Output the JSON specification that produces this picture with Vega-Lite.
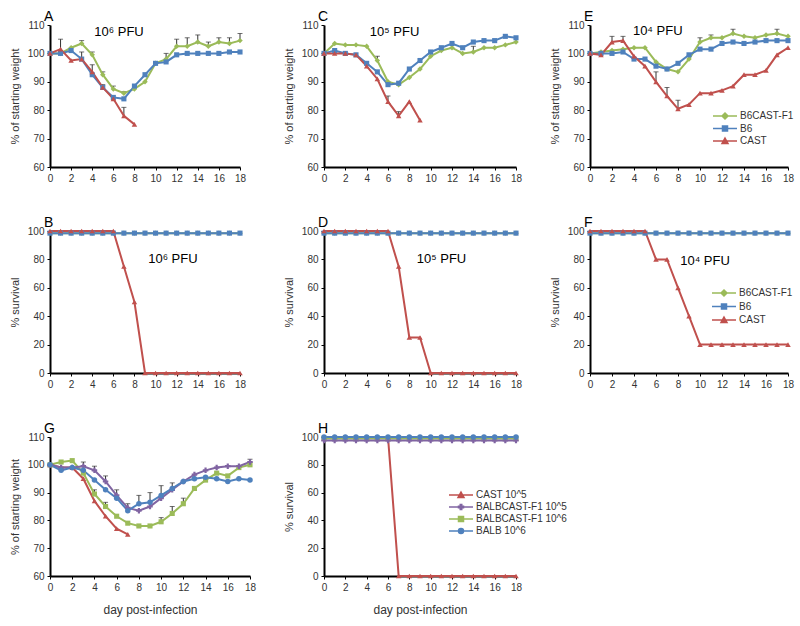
{
"$schema":"https://vega.github.io/schema/vega-lite/v6.json",
"background":"white",
"padding":{"left":9,"top":10,"right":4,"bottom":4},
"config":{
 "font":"Liberation Sans",
 "view":{"stroke":null},
 "axis":{"domainColor":"#000","domainWidth":2,"tickColor":"#000","tickSize":3,"tickWidth":1,"labelFontSize":10,"labelColor":"#333","titleFontSize":11,"titleFontWeight":"normal","titleColor":"#333","grid":false,"labelPadding":3,"labelFlush":false,"labelOverlap":false},
 "axisY":{"minExtent":24,"maxExtent":24,"titlePadding":6},
 "axisX":{"labelAngle":0,"titlePadding":12,"titleFontSize":12},
 "title":{"fontSize":14,"fontWeight":"normal","anchor":"start","frame":"group","offset":-4,"dx":-6,"color":"#000"},
 "legend":{"labelFontSize":10,"labelColor":"#333","symbolStrokeWidth":1.5,"symbolSize":100,"labelOffset":9,"padding":0}
},
"datasets":{
"weight":[
{"p":"A","s":"B6CAST-F1","d":0,"v":100},{"p":"A","s":"B6CAST-F1","d":1,"v":100},{"p":"A","s":"B6CAST-F1","d":2,"v":102},{"p":"A","s":"B6CAST-F1","d":3,"v":103.5,"hi":104.5},{"p":"A","s":"B6CAST-F1","d":4,"v":99.5,"hi":100.5},{"p":"A","s":"B6CAST-F1","d":5,"v":92.5,"hi":93.5},{"p":"A","s":"B6CAST-F1","d":6,"v":87.5,"hi":88.5},{"p":"A","s":"B6CAST-F1","d":7,"v":86,"hi":86.5},{"p":"A","s":"B6CAST-F1","d":8,"v":87.5},{"p":"A","s":"B6CAST-F1","d":9,"v":90},{"p":"A","s":"B6CAST-F1","d":10,"v":96.5},{"p":"A","s":"B6CAST-F1","d":11,"v":98,"hi":100},{"p":"A","s":"B6CAST-F1","d":12,"v":102.5,"hi":105},{"p":"A","s":"B6CAST-F1","d":13,"v":102.5,"hi":105.5},{"p":"A","s":"B6CAST-F1","d":14,"v":104,"hi":106.5},{"p":"A","s":"B6CAST-F1","d":15,"v":102.5,"hi":104},{"p":"A","s":"B6CAST-F1","d":16,"v":104,"hi":105.5},{"p":"A","s":"B6CAST-F1","d":17,"v":103.5,"hi":105.5},{"p":"A","s":"B6CAST-F1","d":18,"v":104.5,"hi":107},
{"p":"A","s":"B6","d":0,"v":100},{"p":"A","s":"B6","d":1,"v":100},{"p":"A","s":"B6","d":2,"v":101},{"p":"A","s":"B6","d":3,"v":98},{"p":"A","s":"B6","d":4,"v":92.5},{"p":"A","s":"B6","d":5,"v":88},{"p":"A","s":"B6","d":6,"v":84.5},{"p":"A","s":"B6","d":7,"v":84},{"p":"A","s":"B6","d":8,"v":88.5},{"p":"A","s":"B6","d":9,"v":92.5},{"p":"A","s":"B6","d":10,"v":96.5},{"p":"A","s":"B6","d":11,"v":97},{"p":"A","s":"B6","d":12,"v":99.5},{"p":"A","s":"B6","d":13,"v":100},{"p":"A","s":"B6","d":14,"v":100},{"p":"A","s":"B6","d":15,"v":100},{"p":"A","s":"B6","d":16,"v":100},{"p":"A","s":"B6","d":17,"v":100.5},{"p":"A","s":"B6","d":18,"v":100.5},
{"p":"A","s":"CAST","d":0,"v":100},{"p":"A","s":"CAST","d":1,"v":101.5,"hi":105},{"p":"A","s":"CAST","d":2,"v":97.5},{"p":"A","s":"CAST","d":3,"v":98,"hi":100.5},{"p":"A","s":"CAST","d":4,"v":93.5,"hi":96},{"p":"A","s":"CAST","d":5,"v":88,"hi":89},{"p":"A","s":"CAST","d":6,"v":84},{"p":"A","s":"CAST","d":7,"v":78,"hi":81},{"p":"A","s":"CAST","d":8,"v":75},
{"p":"C","s":"B6CAST-F1","d":0,"v":100},{"p":"C","s":"B6CAST-F1","d":1,"v":103.5},{"p":"C","s":"B6CAST-F1","d":2,"v":103},{"p":"C","s":"B6CAST-F1","d":3,"v":103},{"p":"C","s":"B6CAST-F1","d":4,"v":102.5},{"p":"C","s":"B6CAST-F1","d":5,"v":97.5,"hi":99},{"p":"C","s":"B6CAST-F1","d":6,"v":90},{"p":"C","s":"B6CAST-F1","d":7,"v":89},{"p":"C","s":"B6CAST-F1","d":8,"v":91.5},{"p":"C","s":"B6CAST-F1","d":9,"v":94.5},{"p":"C","s":"B6CAST-F1","d":10,"v":99},{"p":"C","s":"B6CAST-F1","d":11,"v":101},{"p":"C","s":"B6CAST-F1","d":12,"v":102},{"p":"C","s":"B6CAST-F1","d":13,"v":100},{"p":"C","s":"B6CAST-F1","d":14,"v":100.5,"hi":102.5},{"p":"C","s":"B6CAST-F1","d":15,"v":102},{"p":"C","s":"B6CAST-F1","d":16,"v":102},{"p":"C","s":"B6CAST-F1","d":17,"v":103},{"p":"C","s":"B6CAST-F1","d":18,"v":104},
{"p":"C","s":"B6","d":0,"v":100},{"p":"C","s":"B6","d":1,"v":101},{"p":"C","s":"B6","d":2,"v":100},{"p":"C","s":"B6","d":3,"v":99.5},{"p":"C","s":"B6","d":4,"v":96.5},{"p":"C","s":"B6","d":5,"v":93.5},{"p":"C","s":"B6","d":6,"v":89},{"p":"C","s":"B6","d":7,"v":89.5},{"p":"C","s":"B6","d":8,"v":94.5},{"p":"C","s":"B6","d":9,"v":97.5},{"p":"C","s":"B6","d":10,"v":100.5},{"p":"C","s":"B6","d":11,"v":102},{"p":"C","s":"B6","d":12,"v":103.5},{"p":"C","s":"B6","d":13,"v":102},{"p":"C","s":"B6","d":14,"v":104},{"p":"C","s":"B6","d":15,"v":104.5},{"p":"C","s":"B6","d":16,"v":104.5},{"p":"C","s":"B6","d":17,"v":106},{"p":"C","s":"B6","d":18,"v":105.5},
{"p":"C","s":"CAST","d":0,"v":100},{"p":"C","s":"CAST","d":1,"v":100},{"p":"C","s":"CAST","d":2,"v":100},{"p":"C","s":"CAST","d":3,"v":99.5},{"p":"C","s":"CAST","d":4,"v":95.5},{"p":"C","s":"CAST","d":5,"v":91},{"p":"C","s":"CAST","d":6,"v":83,"hi":85},{"p":"C","s":"CAST","d":7,"v":78,"hi":79.5},{"p":"C","s":"CAST","d":8,"v":83},{"p":"C","s":"CAST","d":9,"v":76.5},
{"p":"E","s":"B6CAST-F1","d":0,"v":100},{"p":"E","s":"B6CAST-F1","d":1,"v":100.5},{"p":"E","s":"B6CAST-F1","d":2,"v":101},{"p":"E","s":"B6CAST-F1","d":3,"v":101.5},{"p":"E","s":"B6CAST-F1","d":4,"v":102},{"p":"E","s":"B6CAST-F1","d":5,"v":102},{"p":"E","s":"B6CAST-F1","d":6,"v":97},{"p":"E","s":"B6CAST-F1","d":7,"v":94.5},{"p":"E","s":"B6CAST-F1","d":8,"v":93.5},{"p":"E","s":"B6CAST-F1","d":9,"v":98},{"p":"E","s":"B6CAST-F1","d":10,"v":104,"hi":105.5},{"p":"E","s":"B6CAST-F1","d":11,"v":105.5,"hi":106.5},{"p":"E","s":"B6CAST-F1","d":12,"v":105.5},{"p":"E","s":"B6CAST-F1","d":13,"v":107,"hi":108.5},{"p":"E","s":"B6CAST-F1","d":14,"v":106},{"p":"E","s":"B6CAST-F1","d":15,"v":105.5},{"p":"E","s":"B6CAST-F1","d":16,"v":106.5},{"p":"E","s":"B6CAST-F1","d":17,"v":107,"hi":108.5},{"p":"E","s":"B6CAST-F1","d":18,"v":106},
{"p":"E","s":"B6","d":0,"v":100},{"p":"E","s":"B6","d":1,"v":100},{"p":"E","s":"B6","d":2,"v":100},{"p":"E","s":"B6","d":3,"v":100.5},{"p":"E","s":"B6","d":4,"v":98},{"p":"E","s":"B6","d":5,"v":98},{"p":"E","s":"B6","d":6,"v":95.5},{"p":"E","s":"B6","d":7,"v":94.5},{"p":"E","s":"B6","d":8,"v":96.5},{"p":"E","s":"B6","d":9,"v":99.5},{"p":"E","s":"B6","d":10,"v":101.5},{"p":"E","s":"B6","d":11,"v":101.5},{"p":"E","s":"B6","d":12,"v":103.5},{"p":"E","s":"B6","d":13,"v":104},{"p":"E","s":"B6","d":14,"v":103.5},{"p":"E","s":"B6","d":15,"v":104},{"p":"E","s":"B6","d":16,"v":104.5},{"p":"E","s":"B6","d":17,"v":104.5},{"p":"E","s":"B6","d":18,"v":104.5},
{"p":"E","s":"CAST","d":0,"v":100},{"p":"E","s":"CAST","d":1,"v":99.5},{"p":"E","s":"CAST","d":2,"v":104,"hi":106},{"p":"E","s":"CAST","d":3,"v":104.5,"hi":106},{"p":"E","s":"CAST","d":4,"v":99},{"p":"E","s":"CAST","d":5,"v":95.5},{"p":"E","s":"CAST","d":6,"v":90,"hi":93.5},{"p":"E","s":"CAST","d":7,"v":85,"hi":88},{"p":"E","s":"CAST","d":8,"v":80.5,"hi":83.5},{"p":"E","s":"CAST","d":9,"v":82},{"p":"E","s":"CAST","d":10,"v":86},{"p":"E","s":"CAST","d":11,"v":86},{"p":"E","s":"CAST","d":12,"v":87},{"p":"E","s":"CAST","d":13,"v":88.5},{"p":"E","s":"CAST","d":14,"v":92.5},{"p":"E","s":"CAST","d":15,"v":92.5},{"p":"E","s":"CAST","d":16,"v":94},{"p":"E","s":"CAST","d":17,"v":99.5},{"p":"E","s":"CAST","d":18,"v":102},
{"p":"G","s":"BALBCAST-F1 10^6","d":0,"v":100},{"p":"G","s":"BALBCAST-F1 10^6","d":1,"v":101},{"p":"G","s":"BALBCAST-F1 10^6","d":2,"v":101.5},{"p":"G","s":"BALBCAST-F1 10^6","d":3,"v":97},{"p":"G","s":"BALBCAST-F1 10^6","d":4,"v":89.5,"hi":91},{"p":"G","s":"BALBCAST-F1 10^6","d":5,"v":85,"hi":86.5},{"p":"G","s":"BALBCAST-F1 10^6","d":6,"v":81.5},{"p":"G","s":"BALBCAST-F1 10^6","d":7,"v":79},{"p":"G","s":"BALBCAST-F1 10^6","d":8,"v":78},{"p":"G","s":"BALBCAST-F1 10^6","d":9,"v":78},{"p":"G","s":"BALBCAST-F1 10^6","d":10,"v":79.5,"hi":81},{"p":"G","s":"BALBCAST-F1 10^6","d":11,"v":82.5,"hi":85},{"p":"G","s":"BALBCAST-F1 10^6","d":12,"v":86,"hi":88},{"p":"G","s":"BALBCAST-F1 10^6","d":13,"v":91.5},{"p":"G","s":"BALBCAST-F1 10^6","d":14,"v":94.5},{"p":"G","s":"BALBCAST-F1 10^6","d":15,"v":97},{"p":"G","s":"BALBCAST-F1 10^6","d":16,"v":96},{"p":"G","s":"BALBCAST-F1 10^6","d":17,"v":99},{"p":"G","s":"BALBCAST-F1 10^6","d":18,"v":100},
{"p":"G","s":"CAST 10^5","d":0,"v":100},{"p":"G","s":"CAST 10^5","d":1,"v":99},{"p":"G","s":"CAST 10^5","d":2,"v":99},{"p":"G","s":"CAST 10^5","d":3,"v":95},{"p":"G","s":"CAST 10^5","d":4,"v":87},{"p":"G","s":"CAST 10^5","d":5,"v":81.5},{"p":"G","s":"CAST 10^5","d":6,"v":77},{"p":"G","s":"CAST 10^5","d":7,"v":75},
{"p":"G","s":"BALBCAST-F1 10^5","d":0,"v":100},{"p":"G","s":"BALBCAST-F1 10^5","d":1,"v":99},{"p":"G","s":"BALBCAST-F1 10^5","d":2,"v":99},{"p":"G","s":"BALBCAST-F1 10^5","d":3,"v":99.5,"hi":101},{"p":"G","s":"BALBCAST-F1 10^5","d":4,"v":98,"hi":99.5},{"p":"G","s":"BALBCAST-F1 10^5","d":5,"v":94,"hi":96},{"p":"G","s":"BALBCAST-F1 10^5","d":6,"v":89,"hi":91},{"p":"G","s":"BALBCAST-F1 10^5","d":7,"v":84.5,"hi":86},{"p":"G","s":"BALBCAST-F1 10^5","d":8,"v":83.5},{"p":"G","s":"BALBCAST-F1 10^5","d":9,"v":85},{"p":"G","s":"BALBCAST-F1 10^5","d":10,"v":88},{"p":"G","s":"BALBCAST-F1 10^5","d":11,"v":91},{"p":"G","s":"BALBCAST-F1 10^5","d":12,"v":94},{"p":"G","s":"BALBCAST-F1 10^5","d":13,"v":96.5},{"p":"G","s":"BALBCAST-F1 10^5","d":14,"v":98},{"p":"G","s":"BALBCAST-F1 10^5","d":15,"v":99},{"p":"G","s":"BALBCAST-F1 10^5","d":16,"v":99.5},{"p":"G","s":"BALBCAST-F1 10^5","d":17,"v":99.5},{"p":"G","s":"BALBCAST-F1 10^5","d":18,"v":101,"hi":102},
{"p":"G","s":"BALB 10^6","d":0,"v":100},{"p":"G","s":"BALB 10^6","d":1,"v":98},{"p":"G","s":"BALB 10^6","d":2,"v":99},{"p":"G","s":"BALB 10^6","d":3,"v":98},{"p":"G","s":"BALB 10^6","d":4,"v":94.5},{"p":"G","s":"BALB 10^6","d":5,"v":91},{"p":"G","s":"BALB 10^6","d":6,"v":88},{"p":"G","s":"BALB 10^6","d":7,"v":83.5},{"p":"G","s":"BALB 10^6","d":8,"v":86,"hi":89},{"p":"G","s":"BALB 10^6","d":9,"v":86.5,"hi":90},{"p":"G","s":"BALB 10^6","d":10,"v":89,"hi":92.5},{"p":"G","s":"BALB 10^6","d":11,"v":91.5,"hi":93.5},{"p":"G","s":"BALB 10^6","d":12,"v":94},{"p":"G","s":"BALB 10^6","d":13,"v":95},{"p":"G","s":"BALB 10^6","d":14,"v":95.5},{"p":"G","s":"BALB 10^6","d":15,"v":95},{"p":"G","s":"BALB 10^6","d":16,"v":94},{"p":"G","s":"BALB 10^6","d":17,"v":95},{"p":"G","s":"BALB 10^6","d":18,"v":94.5}
],
"surv":[
{"p":"B","s":"B6CAST-F1","d":0,"v":98.5},{"p":"B","s":"B6CAST-F1","d":1,"v":98.5},{"p":"B","s":"B6CAST-F1","d":2,"v":98.5},{"p":"B","s":"B6CAST-F1","d":3,"v":98.5},{"p":"B","s":"B6CAST-F1","d":4,"v":98.5},{"p":"B","s":"B6CAST-F1","d":5,"v":98.5},{"p":"B","s":"B6CAST-F1","d":6,"v":98.5},{"p":"B","s":"B6CAST-F1","d":7,"v":98.5},{"p":"B","s":"B6CAST-F1","d":8,"v":98.5},{"p":"B","s":"B6CAST-F1","d":9,"v":98.5},{"p":"B","s":"B6CAST-F1","d":10,"v":98.5},{"p":"B","s":"B6CAST-F1","d":11,"v":98.5},{"p":"B","s":"B6CAST-F1","d":12,"v":98.5},{"p":"B","s":"B6CAST-F1","d":13,"v":98.5},{"p":"B","s":"B6CAST-F1","d":14,"v":98.5},{"p":"B","s":"B6CAST-F1","d":15,"v":98.5},{"p":"B","s":"B6CAST-F1","d":16,"v":98.5},{"p":"B","s":"B6CAST-F1","d":17,"v":98.5},{"p":"B","s":"B6CAST-F1","d":18,"v":98.5},
{"p":"B","s":"B6","d":0,"v":98.5},{"p":"B","s":"B6","d":1,"v":98.5},{"p":"B","s":"B6","d":2,"v":98.5},{"p":"B","s":"B6","d":3,"v":98.5},{"p":"B","s":"B6","d":4,"v":98.5},{"p":"B","s":"B6","d":5,"v":98.5},{"p":"B","s":"B6","d":6,"v":98.5},{"p":"B","s":"B6","d":7,"v":98.5},{"p":"B","s":"B6","d":8,"v":98.5},{"p":"B","s":"B6","d":9,"v":98.5},{"p":"B","s":"B6","d":10,"v":98.5},{"p":"B","s":"B6","d":11,"v":98.5},{"p":"B","s":"B6","d":12,"v":98.5},{"p":"B","s":"B6","d":13,"v":98.5},{"p":"B","s":"B6","d":14,"v":98.5},{"p":"B","s":"B6","d":15,"v":98.5},{"p":"B","s":"B6","d":16,"v":98.5},{"p":"B","s":"B6","d":17,"v":98.5},{"p":"B","s":"B6","d":18,"v":98.5},
{"p":"B","s":"CAST","d":0,"v":100},{"p":"B","s":"CAST","d":1,"v":100},{"p":"B","s":"CAST","d":2,"v":100},{"p":"B","s":"CAST","d":3,"v":100},{"p":"B","s":"CAST","d":4,"v":100},{"p":"B","s":"CAST","d":5,"v":100},{"p":"B","s":"CAST","d":6,"v":100},{"p":"B","s":"CAST","d":7,"v":75},{"p":"B","s":"CAST","d":8,"v":50},{"p":"B","s":"CAST","d":9,"v":0},{"p":"B","s":"CAST","d":10,"v":0},{"p":"B","s":"CAST","d":11,"v":0},{"p":"B","s":"CAST","d":12,"v":0},{"p":"B","s":"CAST","d":13,"v":0},{"p":"B","s":"CAST","d":14,"v":0},{"p":"B","s":"CAST","d":15,"v":0},{"p":"B","s":"CAST","d":16,"v":0},{"p":"B","s":"CAST","d":17,"v":0},{"p":"B","s":"CAST","d":18,"v":0},
{"p":"D","s":"B6CAST-F1","d":0,"v":98.5},{"p":"D","s":"B6CAST-F1","d":1,"v":98.5},{"p":"D","s":"B6CAST-F1","d":2,"v":98.5},{"p":"D","s":"B6CAST-F1","d":3,"v":98.5},{"p":"D","s":"B6CAST-F1","d":4,"v":98.5},{"p":"D","s":"B6CAST-F1","d":5,"v":98.5},{"p":"D","s":"B6CAST-F1","d":6,"v":98.5},{"p":"D","s":"B6CAST-F1","d":7,"v":98.5},{"p":"D","s":"B6CAST-F1","d":8,"v":98.5},{"p":"D","s":"B6CAST-F1","d":9,"v":98.5},{"p":"D","s":"B6CAST-F1","d":10,"v":98.5},{"p":"D","s":"B6CAST-F1","d":11,"v":98.5},{"p":"D","s":"B6CAST-F1","d":12,"v":98.5},{"p":"D","s":"B6CAST-F1","d":13,"v":98.5},{"p":"D","s":"B6CAST-F1","d":14,"v":98.5},{"p":"D","s":"B6CAST-F1","d":15,"v":98.5},{"p":"D","s":"B6CAST-F1","d":16,"v":98.5},{"p":"D","s":"B6CAST-F1","d":17,"v":98.5},{"p":"D","s":"B6CAST-F1","d":18,"v":98.5},
{"p":"D","s":"B6","d":0,"v":98.5},{"p":"D","s":"B6","d":1,"v":98.5},{"p":"D","s":"B6","d":2,"v":98.5},{"p":"D","s":"B6","d":3,"v":98.5},{"p":"D","s":"B6","d":4,"v":98.5},{"p":"D","s":"B6","d":5,"v":98.5},{"p":"D","s":"B6","d":6,"v":98.5},{"p":"D","s":"B6","d":7,"v":98.5},{"p":"D","s":"B6","d":8,"v":98.5},{"p":"D","s":"B6","d":9,"v":98.5},{"p":"D","s":"B6","d":10,"v":98.5},{"p":"D","s":"B6","d":11,"v":98.5},{"p":"D","s":"B6","d":12,"v":98.5},{"p":"D","s":"B6","d":13,"v":98.5},{"p":"D","s":"B6","d":14,"v":98.5},{"p":"D","s":"B6","d":15,"v":98.5},{"p":"D","s":"B6","d":16,"v":98.5},{"p":"D","s":"B6","d":17,"v":98.5},{"p":"D","s":"B6","d":18,"v":98.5},
{"p":"D","s":"CAST","d":0,"v":100},{"p":"D","s":"CAST","d":1,"v":100},{"p":"D","s":"CAST","d":2,"v":100},{"p":"D","s":"CAST","d":3,"v":100},{"p":"D","s":"CAST","d":4,"v":100},{"p":"D","s":"CAST","d":5,"v":100},{"p":"D","s":"CAST","d":6,"v":100},{"p":"D","s":"CAST","d":7,"v":75},{"p":"D","s":"CAST","d":8,"v":25},{"p":"D","s":"CAST","d":9,"v":25},{"p":"D","s":"CAST","d":10,"v":0},{"p":"D","s":"CAST","d":11,"v":0},{"p":"D","s":"CAST","d":12,"v":0},{"p":"D","s":"CAST","d":13,"v":0},{"p":"D","s":"CAST","d":14,"v":0},{"p":"D","s":"CAST","d":15,"v":0},{"p":"D","s":"CAST","d":16,"v":0},{"p":"D","s":"CAST","d":17,"v":0},{"p":"D","s":"CAST","d":18,"v":0},
{"p":"F","s":"B6CAST-F1","d":0,"v":98.5},{"p":"F","s":"B6CAST-F1","d":1,"v":98.5},{"p":"F","s":"B6CAST-F1","d":2,"v":98.5},{"p":"F","s":"B6CAST-F1","d":3,"v":98.5},{"p":"F","s":"B6CAST-F1","d":4,"v":98.5},{"p":"F","s":"B6CAST-F1","d":5,"v":98.5},{"p":"F","s":"B6CAST-F1","d":6,"v":98.5},{"p":"F","s":"B6CAST-F1","d":7,"v":98.5},{"p":"F","s":"B6CAST-F1","d":8,"v":98.5},{"p":"F","s":"B6CAST-F1","d":9,"v":98.5},{"p":"F","s":"B6CAST-F1","d":10,"v":98.5},{"p":"F","s":"B6CAST-F1","d":11,"v":98.5},{"p":"F","s":"B6CAST-F1","d":12,"v":98.5},{"p":"F","s":"B6CAST-F1","d":13,"v":98.5},{"p":"F","s":"B6CAST-F1","d":14,"v":98.5},{"p":"F","s":"B6CAST-F1","d":15,"v":98.5},{"p":"F","s":"B6CAST-F1","d":16,"v":98.5},{"p":"F","s":"B6CAST-F1","d":17,"v":98.5},{"p":"F","s":"B6CAST-F1","d":18,"v":98.5},
{"p":"F","s":"B6","d":0,"v":98.5},{"p":"F","s":"B6","d":1,"v":98.5},{"p":"F","s":"B6","d":2,"v":98.5},{"p":"F","s":"B6","d":3,"v":98.5},{"p":"F","s":"B6","d":4,"v":98.5},{"p":"F","s":"B6","d":5,"v":98.5},{"p":"F","s":"B6","d":6,"v":98.5},{"p":"F","s":"B6","d":7,"v":98.5},{"p":"F","s":"B6","d":8,"v":98.5},{"p":"F","s":"B6","d":9,"v":98.5},{"p":"F","s":"B6","d":10,"v":98.5},{"p":"F","s":"B6","d":11,"v":98.5},{"p":"F","s":"B6","d":12,"v":98.5},{"p":"F","s":"B6","d":13,"v":98.5},{"p":"F","s":"B6","d":14,"v":98.5},{"p":"F","s":"B6","d":15,"v":98.5},{"p":"F","s":"B6","d":16,"v":98.5},{"p":"F","s":"B6","d":17,"v":98.5},{"p":"F","s":"B6","d":18,"v":98.5},
{"p":"F","s":"CAST","d":0,"v":100},{"p":"F","s":"CAST","d":1,"v":100},{"p":"F","s":"CAST","d":2,"v":100},{"p":"F","s":"CAST","d":3,"v":100},{"p":"F","s":"CAST","d":4,"v":100},{"p":"F","s":"CAST","d":5,"v":100},{"p":"F","s":"CAST","d":6,"v":80},{"p":"F","s":"CAST","d":7,"v":80},{"p":"F","s":"CAST","d":8,"v":60},{"p":"F","s":"CAST","d":9,"v":40},{"p":"F","s":"CAST","d":10,"v":20},{"p":"F","s":"CAST","d":11,"v":20},{"p":"F","s":"CAST","d":12,"v":20},{"p":"F","s":"CAST","d":13,"v":20},{"p":"F","s":"CAST","d":14,"v":20},{"p":"F","s":"CAST","d":15,"v":20},{"p":"F","s":"CAST","d":16,"v":20},{"p":"F","s":"CAST","d":17,"v":20},{"p":"F","s":"CAST","d":18,"v":20},
{"p":"H","s":"CAST 10^5","d":0,"v":100},{"p":"H","s":"CAST 10^5","d":1,"v":100},{"p":"H","s":"CAST 10^5","d":2,"v":100},{"p":"H","s":"CAST 10^5","d":3,"v":100},{"p":"H","s":"CAST 10^5","d":4,"v":100},{"p":"H","s":"CAST 10^5","d":5,"v":100},{"p":"H","s":"CAST 10^5","d":6,"v":100},{"p":"H","s":"CAST 10^5","d":7,"v":0},{"p":"H","s":"CAST 10^5","d":8,"v":0},{"p":"H","s":"CAST 10^5","d":9,"v":0},{"p":"H","s":"CAST 10^5","d":10,"v":0},{"p":"H","s":"CAST 10^5","d":11,"v":0},{"p":"H","s":"CAST 10^5","d":12,"v":0},{"p":"H","s":"CAST 10^5","d":13,"v":0},{"p":"H","s":"CAST 10^5","d":14,"v":0},{"p":"H","s":"CAST 10^5","d":15,"v":0},{"p":"H","s":"CAST 10^5","d":16,"v":0},{"p":"H","s":"CAST 10^5","d":17,"v":0},{"p":"H","s":"CAST 10^5","d":18,"v":0},
{"p":"H","s":"BALBCAST-F1 10^6","d":0,"v":99},{"p":"H","s":"BALBCAST-F1 10^6","d":1,"v":99},{"p":"H","s":"BALBCAST-F1 10^6","d":2,"v":99},{"p":"H","s":"BALBCAST-F1 10^6","d":3,"v":99},{"p":"H","s":"BALBCAST-F1 10^6","d":4,"v":99},{"p":"H","s":"BALBCAST-F1 10^6","d":5,"v":99},{"p":"H","s":"BALBCAST-F1 10^6","d":6,"v":99},{"p":"H","s":"BALBCAST-F1 10^6","d":7,"v":99},{"p":"H","s":"BALBCAST-F1 10^6","d":8,"v":99},{"p":"H","s":"BALBCAST-F1 10^6","d":9,"v":99},{"p":"H","s":"BALBCAST-F1 10^6","d":10,"v":99},{"p":"H","s":"BALBCAST-F1 10^6","d":11,"v":99},{"p":"H","s":"BALBCAST-F1 10^6","d":12,"v":99},{"p":"H","s":"BALBCAST-F1 10^6","d":13,"v":99},{"p":"H","s":"BALBCAST-F1 10^6","d":14,"v":99},{"p":"H","s":"BALBCAST-F1 10^6","d":15,"v":99},{"p":"H","s":"BALBCAST-F1 10^6","d":16,"v":99},{"p":"H","s":"BALBCAST-F1 10^6","d":17,"v":99},{"p":"H","s":"BALBCAST-F1 10^6","d":18,"v":99},
{"p":"H","s":"BALBCAST-F1 10^5","d":0,"v":97.5},{"p":"H","s":"BALBCAST-F1 10^5","d":1,"v":97.5},{"p":"H","s":"BALBCAST-F1 10^5","d":2,"v":97.5},{"p":"H","s":"BALBCAST-F1 10^5","d":3,"v":97.5},{"p":"H","s":"BALBCAST-F1 10^5","d":4,"v":97.5},{"p":"H","s":"BALBCAST-F1 10^5","d":5,"v":97.5},{"p":"H","s":"BALBCAST-F1 10^5","d":6,"v":97.5},{"p":"H","s":"BALBCAST-F1 10^5","d":7,"v":97.5},{"p":"H","s":"BALBCAST-F1 10^5","d":8,"v":97.5},{"p":"H","s":"BALBCAST-F1 10^5","d":9,"v":97.5},{"p":"H","s":"BALBCAST-F1 10^5","d":10,"v":97.5},{"p":"H","s":"BALBCAST-F1 10^5","d":11,"v":97.5},{"p":"H","s":"BALBCAST-F1 10^5","d":12,"v":97.5},{"p":"H","s":"BALBCAST-F1 10^5","d":13,"v":97.5},{"p":"H","s":"BALBCAST-F1 10^5","d":14,"v":97.5},{"p":"H","s":"BALBCAST-F1 10^5","d":15,"v":97.5},{"p":"H","s":"BALBCAST-F1 10^5","d":16,"v":97.5},{"p":"H","s":"BALBCAST-F1 10^5","d":17,"v":97.5},{"p":"H","s":"BALBCAST-F1 10^5","d":18,"v":97.5},
{"p":"H","s":"BALB 10^6","d":0,"v":100},{"p":"H","s":"BALB 10^6","d":1,"v":100},{"p":"H","s":"BALB 10^6","d":2,"v":100},{"p":"H","s":"BALB 10^6","d":3,"v":100},{"p":"H","s":"BALB 10^6","d":4,"v":100},{"p":"H","s":"BALB 10^6","d":5,"v":100},{"p":"H","s":"BALB 10^6","d":6,"v":100},{"p":"H","s":"BALB 10^6","d":7,"v":100},{"p":"H","s":"BALB 10^6","d":8,"v":100},{"p":"H","s":"BALB 10^6","d":9,"v":100},{"p":"H","s":"BALB 10^6","d":10,"v":100},{"p":"H","s":"BALB 10^6","d":11,"v":100},{"p":"H","s":"BALB 10^6","d":12,"v":100},{"p":"H","s":"BALB 10^6","d":13,"v":100},{"p":"H","s":"BALB 10^6","d":14,"v":100},{"p":"H","s":"BALB 10^6","d":15,"v":100},{"p":"H","s":"BALB 10^6","d":16,"v":100},{"p":"H","s":"BALB 10^6","d":17,"v":100},{"p":"H","s":"BALB 10^6","d":18,"v":100}
],
"labels":[
{"p":"A","d":4.2,"v":107.5,"t":"10⁶ PFU"},{"p":"C","d":4.3,"v":107.5,"t":"10⁵ PFU"},{"p":"E","d":3.9,"v":107.8,"t":"10⁴ PFU"},{"p":"B","d":9.3,"v":80,"t":"10⁶ PFU"},{"p":"D","d":8.7,"v":80,"t":"10⁵ PFU"},{"p":"F","d":8.2,"v":79,"t":"10⁴ PFU"}
]
},
"columns":3,
"spacing":{"row":64,"column":74},
"bounds":"flush",
"align":"each",
"resolve":{"scale":{"color":"independent","fill":"independent","stroke":"independent","shape":"independent"},"legend":{"fill":"independent","stroke":"independent","shape":"independent"}},
"concat":[
{
 "width":190,"height":142,"title":"A",
 "data":{"name":"weight"},
 "transform":[{"filter":"datum.p==='A'"}],
 "encoding":{
  "x":{"field":"d","type":"quantitative","scale":{"domain":[0,18],"nice":false,"zero":false},"axis":{"values":[0,2,4,6,8,10,12,14,16,18],"title":null}},
  "y":{"field":"v","type":"quantitative","scale":{"domain":[60,110],"nice":false,"zero":false},"axis":{"values":[60,70,80,90,100,110],"title":"% of starting weight"}}
 },
 "layer":[
  {"transform":[{"filter":"isValid(datum.hi)"}],"mark":{"type":"rule","color":"#333","strokeWidth":1},"encoding":{"y2":{"field":"hi"}}},
  {"transform":[{"filter":"isValid(datum.hi)"}],"mark":{"type":"tick","orient":"horizontal","size":5,"thickness":1,"color":"#333"},"encoding":{"y":{"field":"hi","type":"quantitative","scale":{"domain":[60,110],"nice":false,"zero":false},"axis":{"values":[60,70,80,90,100,110],"title":"% of starting weight"}}}},
  {"mark":{"type":"line","strokeWidth":2},"encoding":{"color":{"field":"s","type":"nominal","scale":{"domain":["B6CAST-F1","B6","CAST"],"range":["#9BBB59","#4F81BD","#C0504D"]},"legend":null}}},
  {"transform":[{"filter":"datum.s==='B6CAST-F1'"}],"mark":{"type":"point","filled":true,"opacity":1,"size":30,"shape":"diamond","color":"#9BBB59"}},
  {"transform":[{"filter":"datum.s==='B6'"}],"mark":{"type":"point","filled":true,"opacity":1,"size":26,"shape":"square","color":"#4F81BD"}},
  {"transform":[{"filter":"datum.s==='CAST'"}],"mark":{"type":"point","filled":true,"opacity":1,"size":30,"shape":"triangle-up","color":"#C0504D"}},
  {"data":{"name":"labels"},"transform":[{"filter":"datum.p==='A'"}],"mark":{"type":"text","align":"left","baseline":"middle","fontSize":13,"color":"#000"},"encoding":{"text":{"field":"t"}}}
 ]
},
{
 "width":192,"height":142,"title":"C",
 "data":{"name":"weight"},
 "transform":[{"filter":"datum.p==='C'"}],
 "encoding":{
  "x":{"field":"d","type":"quantitative","scale":{"domain":[0,18],"nice":false,"zero":false},"axis":{"values":[0,2,4,6,8,10,12,14,16,18],"title":null}},
  "y":{"field":"v","type":"quantitative","scale":{"domain":[60,110],"nice":false,"zero":false},"axis":{"values":[60,70,80,90,100,110],"title":"% of starting weight"}}
 },
 "layer":[
  {"transform":[{"filter":"isValid(datum.hi)"}],"mark":{"type":"rule","color":"#333","strokeWidth":1},"encoding":{"y2":{"field":"hi"}}},
  {"transform":[{"filter":"isValid(datum.hi)"}],"mark":{"type":"tick","orient":"horizontal","size":5,"thickness":1,"color":"#333"},"encoding":{"y":{"field":"hi","type":"quantitative","scale":{"domain":[60,110],"nice":false,"zero":false},"axis":{"values":[60,70,80,90,100,110],"title":"% of starting weight"}}}},
  {"mark":{"type":"line","strokeWidth":2},"encoding":{"color":{"field":"s","type":"nominal","scale":{"domain":["B6CAST-F1","B6","CAST"],"range":["#9BBB59","#4F81BD","#C0504D"]},"legend":null}}},
  {"transform":[{"filter":"datum.s==='B6CAST-F1'"}],"mark":{"type":"point","filled":true,"opacity":1,"size":30,"shape":"diamond","color":"#9BBB59"}},
  {"transform":[{"filter":"datum.s==='B6'"}],"mark":{"type":"point","filled":true,"opacity":1,"size":26,"shape":"square","color":"#4F81BD"}},
  {"transform":[{"filter":"datum.s==='CAST'"}],"mark":{"type":"point","filled":true,"opacity":1,"size":30,"shape":"triangle-up","color":"#C0504D"}},
  {"data":{"name":"labels"},"transform":[{"filter":"datum.p==='C'"}],"mark":{"type":"text","align":"left","baseline":"middle","fontSize":13,"color":"#000"},"encoding":{"text":{"field":"t"}}}
 ]
},
{
 "width":198,"height":142,"title":"E",
 "data":{"name":"weight"},
 "transform":[{"filter":"datum.p==='E'"}],
 "encoding":{
  "x":{"field":"d","type":"quantitative","scale":{"domain":[0,18],"nice":false,"zero":false},"axis":{"values":[0,2,4,6,8,10,12,14,16,18],"title":null}},
  "y":{"field":"v","type":"quantitative","scale":{"domain":[60,110],"nice":false,"zero":false},"axis":{"values":[60,70,80,90,100,110],"title":"% of starting weight"}}
 },
 "layer":[
  {"transform":[{"filter":"datum.d === 0"}],"mark":{"type":"point","filled":true,"opacity":1,"strokeWidth":1,"size":1},
   "encoding":{
    "fill":{"field":"s","type":"nominal","scale":{"domain":["B6CAST-F1","B6","CAST"],"range":["#9BBB59","#4F81BD","#C0504D"]},"legend":{"title":null,"orient":"none","legendX":129,"legendY":85,"rowPadding":0.5,"symbolSize":100,"symbolStrokeWidth":1.5}},
    "stroke":{"field":"s","type":"nominal","scale":{"domain":["B6CAST-F1","B6","CAST"],"range":["#9BBB59","#4F81BD","#C0504D"]},"legend":{"title":null,"orient":"none","legendX":129,"legendY":85,"rowPadding":0.5,"symbolSize":100,"symbolStrokeWidth":1.5}},
    "shape":{"field":"s","type":"nominal","scale":{"domain":["B6CAST-F1","B6","CAST"],"range":["M-2.4,0H2.4M0,-0.6L0.6,0L0,0.6L-0.6,0Z","M-2.4,0H2.4M-0.5,-0.5H0.5V0.5H-0.5Z","M-2.4,0H2.4M0,-0.6L0.6,0.5H-0.6Z"]},"legend":{"title":null,"orient":"none","legendX":129,"legendY":85,"rowPadding":0.5,"symbolSize":100,"symbolStrokeWidth":1.5}}
   }},
  {"transform":[{"filter":"isValid(datum.hi)"}],"mark":{"type":"rule","color":"#333","strokeWidth":1},"encoding":{"y2":{"field":"hi"}}},
  {"transform":[{"filter":"isValid(datum.hi)"}],"mark":{"type":"tick","orient":"horizontal","size":5,"thickness":1,"color":"#333"},"encoding":{"y":{"field":"hi","type":"quantitative","scale":{"domain":[60,110],"nice":false,"zero":false},"axis":{"values":[60,70,80,90,100,110],"title":"% of starting weight"}}}},
  {"mark":{"type":"line","strokeWidth":2},"encoding":{"color":{"field":"s","type":"nominal","scale":{"domain":["B6CAST-F1","B6","CAST"],"range":["#9BBB59","#4F81BD","#C0504D"]},"legend":null}}},
  {"transform":[{"filter":"datum.s==='B6CAST-F1'"}],"mark":{"type":"point","filled":true,"opacity":1,"size":30,"shape":"diamond","color":"#9BBB59"}},
  {"transform":[{"filter":"datum.s==='B6'"}],"mark":{"type":"point","filled":true,"opacity":1,"size":26,"shape":"square","color":"#4F81BD"}},
  {"transform":[{"filter":"datum.s==='CAST'"}],"mark":{"type":"point","filled":true,"opacity":1,"size":30,"shape":"triangle-up","color":"#C0504D"}},
  {"data":{"name":"labels"},"transform":[{"filter":"datum.p==='E'"}],"mark":{"type":"text","align":"left","baseline":"middle","fontSize":13,"color":"#000"},"encoding":{"text":{"field":"t"}}}
 ]
},
{
 "width":190,"height":142,"title":"B",
 "data":{"name":"surv"},
 "transform":[{"filter":"datum.p==='B'"}],
 "encoding":{
  "x":{"field":"d","type":"quantitative","scale":{"domain":[0,18],"nice":false,"zero":false},"axis":{"values":[0,2,4,6,8,10,12,14,16,18],"title":null}},
  "y":{"field":"v","type":"quantitative","scale":{"domain":[0,100],"nice":false},"axis":{"values":[0,20,40,60,80,100],"title":"% survival"}}
 },
 "layer":[
  {"mark":{"type":"line","strokeWidth":2},"encoding":{"color":{"field":"s","type":"nominal","scale":{"domain":["B6CAST-F1","B6","CAST"],"range":["#9BBB59","#4F81BD","#C0504D"]},"legend":null}}},
  {"transform":[{"filter":"datum.s==='B6CAST-F1'"}],"mark":{"type":"point","filled":true,"opacity":1,"size":30,"shape":"diamond","color":"#9BBB59"}},
  {"transform":[{"filter":"datum.s==='B6'"}],"mark":{"type":"point","filled":true,"opacity":1,"size":26,"shape":"square","color":"#4F81BD"}},
  {"transform":[{"filter":"datum.s==='CAST'"}],"mark":{"type":"point","filled":true,"opacity":1,"size":30,"shape":"triangle-up","color":"#C0504D"}},
  {"data":{"name":"labels"},"transform":[{"filter":"datum.p==='B'"}],"mark":{"type":"text","align":"left","baseline":"middle","fontSize":13,"color":"#000"},"encoding":{"text":{"field":"t"}}}
 ]
},
{
 "width":192,"height":142,"title":"D",
 "data":{"name":"surv"},
 "transform":[{"filter":"datum.p==='D'"}],
 "encoding":{
  "x":{"field":"d","type":"quantitative","scale":{"domain":[0,18],"nice":false,"zero":false},"axis":{"values":[0,2,4,6,8,10,12,14,16,18],"title":null}},
  "y":{"field":"v","type":"quantitative","scale":{"domain":[0,100],"nice":false},"axis":{"values":[0,20,40,60,80,100],"title":"% survival"}}
 },
 "layer":[
  {"mark":{"type":"line","strokeWidth":2},"encoding":{"color":{"field":"s","type":"nominal","scale":{"domain":["B6CAST-F1","B6","CAST"],"range":["#9BBB59","#4F81BD","#C0504D"]},"legend":null}}},
  {"transform":[{"filter":"datum.s==='B6CAST-F1'"}],"mark":{"type":"point","filled":true,"opacity":1,"size":30,"shape":"diamond","color":"#9BBB59"}},
  {"transform":[{"filter":"datum.s==='B6'"}],"mark":{"type":"point","filled":true,"opacity":1,"size":26,"shape":"square","color":"#4F81BD"}},
  {"transform":[{"filter":"datum.s==='CAST'"}],"mark":{"type":"point","filled":true,"opacity":1,"size":30,"shape":"triangle-up","color":"#C0504D"}},
  {"data":{"name":"labels"},"transform":[{"filter":"datum.p==='D'"}],"mark":{"type":"text","align":"left","baseline":"middle","fontSize":13,"color":"#000"},"encoding":{"text":{"field":"t"}}}
 ]
},
{
 "width":198,"height":142,"title":"F",
 "data":{"name":"surv"},
 "transform":[{"filter":"datum.p==='F'"}],
 "encoding":{
  "x":{"field":"d","type":"quantitative","scale":{"domain":[0,18],"nice":false,"zero":false},"axis":{"values":[0,2,4,6,8,10,12,14,16,18],"title":null}},
  "y":{"field":"v","type":"quantitative","scale":{"domain":[0,100],"nice":false},"axis":{"values":[0,20,40,60,80,100],"title":"% survival"}}
 },
 "layer":[
  {"transform":[{"filter":"datum.d === 0"}],"mark":{"type":"point","filled":true,"opacity":1,"strokeWidth":1,"size":1},
   "encoding":{
    "fill":{"field":"s","type":"nominal","scale":{"domain":["B6CAST-F1","B6","CAST"],"range":["#9BBB59","#4F81BD","#C0504D"]},"legend":{"title":null,"orient":"none","legendX":128,"legendY":56,"rowPadding":1.5,"symbolSize":100,"symbolStrokeWidth":1.5}},
    "stroke":{"field":"s","type":"nominal","scale":{"domain":["B6CAST-F1","B6","CAST"],"range":["#9BBB59","#4F81BD","#C0504D"]},"legend":{"title":null,"orient":"none","legendX":128,"legendY":56,"rowPadding":1.5,"symbolSize":100,"symbolStrokeWidth":1.5}},
    "shape":{"field":"s","type":"nominal","scale":{"domain":["B6CAST-F1","B6","CAST"],"range":["M-2.4,0H2.4M0,-0.6L0.6,0L0,0.6L-0.6,0Z","M-2.4,0H2.4M-0.5,-0.5H0.5V0.5H-0.5Z","M-2.4,0H2.4M0,-0.6L0.6,0.5H-0.6Z"]},"legend":{"title":null,"orient":"none","legendX":128,"legendY":56,"rowPadding":1.5,"symbolSize":100,"symbolStrokeWidth":1.5}}
   }},
  {"mark":{"type":"line","strokeWidth":2},"encoding":{"color":{"field":"s","type":"nominal","scale":{"domain":["B6CAST-F1","B6","CAST"],"range":["#9BBB59","#4F81BD","#C0504D"]},"legend":null}}},
  {"transform":[{"filter":"datum.s==='B6CAST-F1'"}],"mark":{"type":"point","filled":true,"opacity":1,"size":30,"shape":"diamond","color":"#9BBB59"}},
  {"transform":[{"filter":"datum.s==='B6'"}],"mark":{"type":"point","filled":true,"opacity":1,"size":26,"shape":"square","color":"#4F81BD"}},
  {"transform":[{"filter":"datum.s==='CAST'"}],"mark":{"type":"point","filled":true,"opacity":1,"size":30,"shape":"triangle-up","color":"#C0504D"}},
  {"data":{"name":"labels"},"transform":[{"filter":"datum.p==='F'"}],"mark":{"type":"text","align":"left","baseline":"middle","fontSize":13,"color":"#000"},"encoding":{"text":{"field":"t"}}}
 ]
},
{
 "width":200,"height":139,"title":"G",
 "data":{"name":"weight"},
 "transform":[{"filter":"datum.p==='G'"}],
 "encoding":{
  "x":{"field":"d","type":"quantitative","scale":{"domain":[0,18],"nice":false,"zero":false},"axis":{"values":[0,2,4,6,8,10,12,14,16,18],"title":"day post-infection"}},
  "y":{"field":"v","type":"quantitative","scale":{"domain":[60,110],"nice":false,"zero":false},"axis":{"values":[60,70,80,90,100,110],"title":"% of starting weight"}}
 },
 "layer":[
  {"transform":[{"filter":"isValid(datum.hi)"}],"mark":{"type":"rule","color":"#333","strokeWidth":1},"encoding":{"y2":{"field":"hi"}}},
  {"transform":[{"filter":"isValid(datum.hi)"}],"mark":{"type":"tick","orient":"horizontal","size":5,"thickness":1,"color":"#333"},"encoding":{"y":{"field":"hi","type":"quantitative","scale":{"domain":[60,110],"nice":false,"zero":false},"axis":{"values":[60,70,80,90,100,110],"title":"% of starting weight"}}}},
  {"mark":{"type":"line","strokeWidth":2},"encoding":{"color":{"field":"s","type":"nominal","scale":{"domain":["CAST 10^5","BALBCAST-F1 10^5","BALBCAST-F1 10^6","BALB 10^6"],"range":["#C0504D","#8064A2","#9BBB59","#4F81BD"]},"legend":null}}},
  {"transform":[{"filter":"datum.s==='BALBCAST-F1 10^6'"}],"mark":{"type":"point","filled":true,"opacity":1,"size":26,"shape":"square","color":"#9BBB59"}},
  {"transform":[{"filter":"datum.s==='CAST 10^5'"}],"mark":{"type":"point","filled":true,"opacity":1,"size":30,"shape":"triangle-up","color":"#C0504D"}},
  {"transform":[{"filter":"datum.s==='BALBCAST-F1 10^5'"}],"mark":{"type":"point","filled":true,"opacity":1,"size":30,"shape":"cross","color":"#8064A2"}},
  {"transform":[{"filter":"datum.s==='BALB 10^6'"}],"mark":{"type":"point","filled":true,"opacity":1,"size":30,"shape":"circle","color":"#4F81BD"}}
 ]
},
{
 "width":192,"height":139,"title":"H",
 "data":{"name":"surv"},
 "transform":[{"filter":"datum.p==='H'"}],
 "encoding":{
  "x":{"field":"d","type":"quantitative","scale":{"domain":[0,18],"nice":false,"zero":false},"axis":{"values":[0,2,4,6,8,10,12,14,16,18],"title":"day post-infection"}},
  "y":{"field":"v","type":"quantitative","scale":{"domain":[0,100],"nice":false},"axis":{"values":[0,20,40,60,80,100],"title":"% survival"}}
 },
 "layer":[
  {"transform":[{"filter":"datum.d === 0"}],"mark":{"type":"point","filled":true,"opacity":1,"strokeWidth":1,"size":1},
   "encoding":{
    "fill":{"field":"s","type":"nominal","scale":{"domain":["CAST 10^5","BALBCAST-F1 10^5","BALBCAST-F1 10^6","BALB 10^6"],"range":["#C0504D","#8064A2","#9BBB59","#4F81BD"]},"legend":{"title":null,"orient":"none","legendX":131,"legendY":52,"rowPadding":0,"symbolSize":100,"symbolStrokeWidth":1.5}},
    "stroke":{"field":"s","type":"nominal","scale":{"domain":["CAST 10^5","BALBCAST-F1 10^5","BALBCAST-F1 10^6","BALB 10^6"],"range":["#C0504D","#8064A2","#9BBB59","#4F81BD"]},"legend":{"title":null,"orient":"none","legendX":131,"legendY":52,"rowPadding":0,"symbolSize":100,"symbolStrokeWidth":1.5}},
    "shape":{"field":"s","type":"nominal","scale":{"domain":["CAST 10^5","BALBCAST-F1 10^5","BALBCAST-F1 10^6","BALB 10^6"],"range":["M-2.4,0H2.4M0,-0.6L0.6,0.5H-0.6Z","M-2.4,0H2.4M-0.15,-0.5H0.15V-0.15H0.5V0.15H0.15V0.5H-0.15V0.15H-0.5V-0.15H-0.15Z","M-2.4,0H2.4M-0.5,-0.5H0.5V0.5H-0.5Z","M-2.4,0H2.4M0.5,0A0.5,0.5,0,1,1,-0.5,0A0.5,0.5,0,1,1,0.5,0Z"]},"legend":{"title":null,"orient":"none","legendX":131,"legendY":52,"rowPadding":0,"symbolSize":100,"symbolStrokeWidth":1.5}}
   }},
  {"mark":{"type":"line","strokeWidth":2},"encoding":{"color":{"field":"s","type":"nominal","scale":{"domain":["CAST 10^5","BALBCAST-F1 10^5","BALBCAST-F1 10^6","BALB 10^6"],"range":["#C0504D","#8064A2","#9BBB59","#4F81BD"]},"legend":null}}},
  {"transform":[{"filter":"datum.s==='CAST 10^5'"}],"mark":{"type":"point","filled":true,"opacity":1,"size":30,"shape":"triangle-up","color":"#C0504D"}},
  {"transform":[{"filter":"datum.s==='BALBCAST-F1 10^6'"}],"mark":{"type":"point","filled":true,"opacity":1,"size":26,"shape":"square","color":"#9BBB59"}},
  {"transform":[{"filter":"datum.s==='BALBCAST-F1 10^5'"}],"mark":{"type":"point","filled":true,"opacity":1,"size":30,"shape":"cross","color":"#8064A2"}},
  {"transform":[{"filter":"datum.s==='BALB 10^6'"}],"mark":{"type":"point","filled":true,"opacity":1,"size":30,"shape":"circle","color":"#4F81BD"}}
 ]
}
]
}
